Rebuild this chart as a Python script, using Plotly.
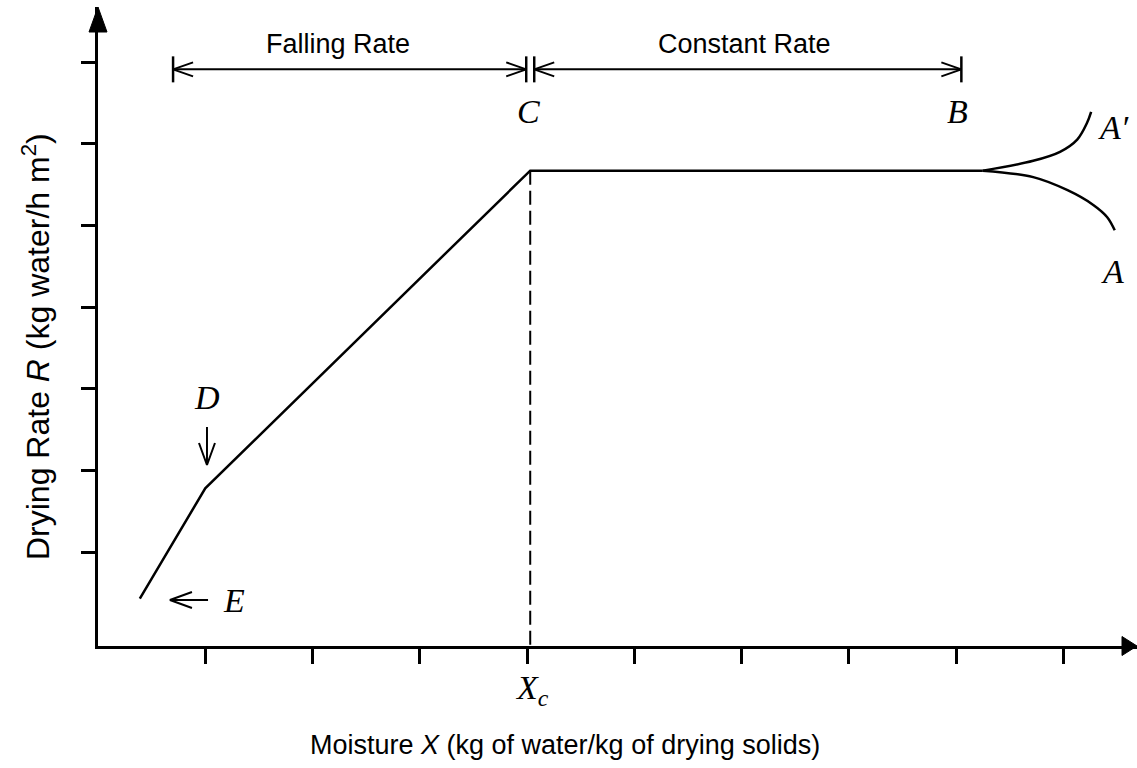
import plotly.graph_objects as go

# ---------------- data ----------------
# main drying-rate curve E -> D -> C -> B
curve_x = [0.39, 1.00, 4.03, 8.25]
curve_y = [0.43, 1.78, 5.67, 5.67]
# initial (warm-up) branches
a_prime_x = [8.25, 8.72, 8.97, 9.13, 9.22, 9.26]
a_prime_y = [5.67, 5.79, 5.90, 6.05, 6.25, 6.39]
a_x = [8.25, 8.72, 9.04, 9.28, 9.41, 9.48]
a_y = [5.67, 5.59, 5.43, 5.25, 5.10, 4.94]
# critical moisture
X_C = 4.03
R_C = 5.67
# tick positions
x_ticks = [1, 2, 3, 4, 5, 6, 7, 8, 9]
y_ticks = [1, 2, 3, 4, 5, 6, 7]
# region limits for the dimension arrows
falling_start = 0.70
constant_end = 8.05
dim_level = 6.91
# point labels: (text, x, y)
point_labels = [
    ("C", 4.01, 6.39),
    ("B", 8.01, 6.40),
    ("A\u2032", 9.47, 6.20),
    ("A", 9.46, 4.43),
    ("D", 1.02, 2.89),
    ("E", 1.27, 0.41),
]
region_labels = [("Falling Rate", 2.24, 7.22), ("Constant Rate", 6.03, 7.22)]
x_title = "Moisture <i>X</i> (kg of water/kg of drying solids)"
y_title = "Drying Rate <i>R</i> (kg water/h m<sup>2</sup>)"

# ---------------- geometry of the page ----------------
W, H = 1137, 768
L_M, R_M, T_M, B_M = 98, 0, 7, 122
PX_PER_X = 107.25
PX_PER_Y = 81.67
plot_w = W - L_M - R_M
plot_h = H - T_M - B_M
x_range = [0, plot_w / PX_PER_X]
y_min = -12.3 / PX_PER_Y
y_range = [y_min, y_min + plot_h / PX_PER_Y]


def vhead(xt, yt, ux, uy, L=20, Wd=7):
    """open V arrow head; tip in data coords, direction in pixel space (y up)"""
    p1x = xt + (-ux * L - uy * Wd) / PX_PER_X
    p1y = yt + (-uy * L + ux * Wd) / PX_PER_Y
    p2x = xt + (-ux * L + uy * Wd) / PX_PER_X
    p2y = yt + (-uy * L - ux * Wd) / PX_PER_Y
    return [p1x, xt, p2x, None], [p1y, yt, p2y, None]


fig = go.Figure()

# main curve
fig.add_trace(go.Scatter(x=curve_x, y=curve_y, mode="lines",
                         line=dict(color="black", width=2.5)))
fig.add_trace(go.Scatter(x=a_prime_x, y=a_prime_y, mode="lines",
                         line=dict(color="black", width=2.5, shape="spline", smoothing=1)))
fig.add_trace(go.Scatter(x=a_x, y=a_y, mode="lines",
                         line=dict(color="black", width=2.5, shape="spline", smoothing=1)))
# dashed critical-moisture line
fig.add_trace(go.Scatter(x=[X_C, X_C], y=[R_C, y_min], mode="lines",
                         line=dict(color="black", width=2, dash="14px,6px")))

# dimension arrows
gap = 4 / PX_PER_X
bar = 13 / PX_PER_Y
ax_, ay_ = [], []
for x0, x1 in [(falling_start, X_C - gap), (X_C + gap, constant_end)]:
    ax_ += [x0, x1, None]
    ay_ += [dim_level, dim_level, None]
    hx, hy = vhead(x0, dim_level, -1, 0)
    ax_ += hx; ay_ += hy
    hx, hy = vhead(x1, dim_level, 1, 0)
    ax_ += hx; ay_ += hy
# D and E pointer arrows
d_x, d_tip, d_tail = 1.016, 2.066, 2.531
ax_ += [d_x, d_x, None]; ay_ += [d_tail, d_tip, None]
hx, hy = vhead(d_x, d_tip, 0, -1, L=22, Wd=8)
ax_ += hx; ay_ += hy
e_y, e_tip, e_tail = 0.413, 0.671, 1.026
ax_ += [e_tail, e_tip, None]; ay_ += [e_y, e_y, None]
hx, hy = vhead(e_tip, e_y, -1, 0, L=22, Wd=8)
ax_ += hx; ay_ += hy
fig.add_trace(go.Scatter(x=ax_, y=ay_, mode="lines",
                         line=dict(color="black", width=2)))
# bars
bx, by = [], []
for xb in [falling_start, X_C - gap, X_C + gap, constant_end]:
    bx += [xb, xb, None]
    by += [dim_level - bar, dim_level + bar, None]
fig.add_trace(go.Scatter(x=bx, y=by, mode="lines",
                         line=dict(color="black", width=2.5)))

serif = dict(family="Liberation Serif", size=34, color="black")
sans = dict(family="Liberation Sans", size=27, color="black")
sans_y = dict(family="Liberation Sans", size=32, color="black")
ann = []
for t, x, y in point_labels:
    ann.append(dict(text=f"<i>{t}</i>", x=x, y=y, xref="x", yref="y",
                    showarrow=False, font=serif, xanchor="center", yanchor="middle"))
ann.append(dict(text="<i>X</i><sub><i>c</i></sub>",
                x=(X_C * PX_PER_X + 2) / plot_w, y=-(690 - (H - B_M)) / plot_h,
                xref="paper", yref="paper", showarrow=False, font=serif,
                xanchor="center", yanchor="middle"))
for t, x, y in region_labels:
    ann.append(dict(text=t, x=x, y=y, xref="x", yref="y", showarrow=False,
                    font=sans, xanchor="center", yanchor="middle"))
ann.append(dict(text=x_title, x=(565 - L_M) / plot_w, y=-(745 - (H - B_M)) / plot_h,
                xref="paper", yref="paper", showarrow=False, font=sans,
                xanchor="center", yanchor="middle"))
ann.append(dict(text=y_title, x=-(L_M - 36) / plot_w, y=((H - B_M) - 347) / plot_h,
                xref="paper", yref="paper", showarrow=False, font=sans_y,
                textangle=-90, xanchor="center", yanchor="middle"))

# axis arrow heads (paper coords)
yh_w, yh_l = 9 / plot_w, 25 / plot_h
xh_l, xh_w = 15 / plot_w, 9.5 / plot_h
shapes = [
    dict(type="path", xref="paper", yref="paper",
         path=f"M {-yh_w},{1 - yh_l} L {yh_w},{1 - yh_l} L 0,1 Z",
         fillcolor="black", line=dict(color="black", width=1)),
    dict(type="path", xref="paper", yref="paper",
         path=f"M {1 - xh_l},{xh_w} L {1 - xh_l},{-xh_w} L 1,0 Z",
         fillcolor="black", line=dict(color="black", width=1)),
]

fig.update_layout(
    width=W, height=H,
    margin=dict(l=L_M, r=R_M, t=T_M, b=B_M, pad=0),
    paper_bgcolor="white", plot_bgcolor="white",
    showlegend=False,
    annotations=ann, shapes=shapes,
    xaxis=dict(range=x_range, tickvals=x_ticks, ticks="outside", ticklen=15,
               tickwidth=2.5, tickcolor="black", showticklabels=False,
               showline=True, linecolor="black", linewidth=3,
               showgrid=False, zeroline=False, fixedrange=True),
    yaxis=dict(range=y_range, tickvals=y_ticks, ticks="outside", ticklen=14,
               tickwidth=2.5, tickcolor="black", showticklabels=False,
               showline=True, linecolor="black", linewidth=3,
               showgrid=False, zeroline=False, fixedrange=True),
)

fig.write_html("out.html")
